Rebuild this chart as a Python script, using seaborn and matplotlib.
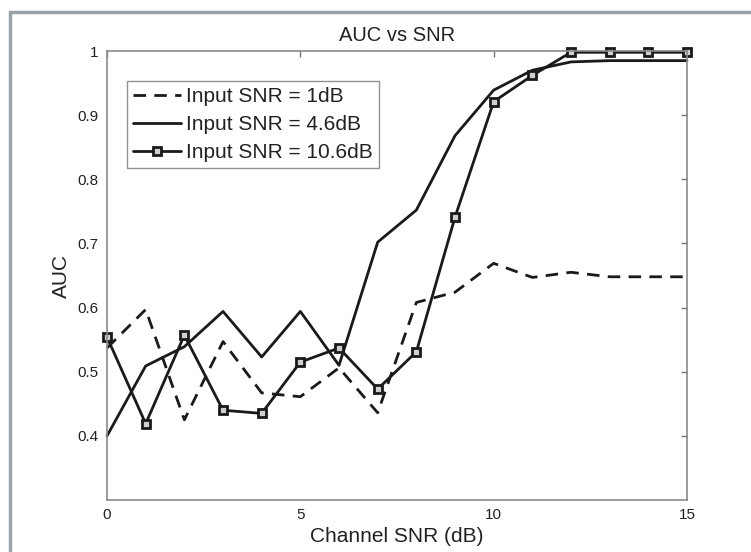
import numpy as np
import pandas as pd
import matplotlib
matplotlib.use("Agg")
import matplotlib.pyplot as plt
from matplotlib.lines import Line2D
import seaborn as sns

sns.set_style("white")
plt.rcParams['font.family'] = ['Liberation Sans', 'DejaVu Sans']

channel_snr = list(range(16))
auc_1db = [0.537, 0.597, 0.425, 0.547, 0.467, 0.461, 0.506, 0.436,
           0.608, 0.624, 0.669, 0.647, 0.655, 0.648, 0.648, 0.648]
auc_4_6db = [0.400, 0.509, 0.539, 0.594, 0.523, 0.594, 0.510, 0.702,
             0.752, 0.868, 0.939, 0.970, 0.983, 0.985, 0.985, 0.985]
auc_10_6db = [0.554, 0.419, 0.557, 0.440, 0.435, 0.515, 0.537, 0.473,
              0.531, 0.741, 0.921, 0.962, 0.998, 0.998, 0.998, 0.998]
labels = ["Input SNR = 1dB", "Input SNR = 4.6dB", "Input SNR = 10.6dB"]

fig = plt.figure(figsize=(7.51, 5.52), dpi=100)
ax = fig.add_axes([0.1425, 0.0942, 0.7723, 0.8134])

lw = 2.0
sns.lineplot(x=channel_snr, y=auc_1db, ax=ax, color="#1a1a1a", lw=lw,
             label=labels[0])
ax.lines[-1].set_dashes([4.5, 3])
sns.lineplot(x=channel_snr, y=auc_4_6db, ax=ax, color="#1a1a1a", lw=lw,
             label=labels[1])
sns.lineplot(x=channel_snr, y=auc_10_6db, ax=ax, color="#1a1a1a", lw=lw,
             marker="s", markersize=5.5, markerfacecolor="#d0d0d0",
             markeredgecolor="#1a1a1a", markeredgewidth=2.0, label=labels[2])
for ln in ax.lines:
    ln.set_clip_on(False)

ax.set_xlim(0, 15)
ax.set_ylim(0.3, 1.0)
ax.set_xticks([0, 5, 10, 15])
ax.set_yticks([0.4, 0.5, 0.6, 0.7, 0.8, 0.9, 1.0])
ax.set_yticklabels(["0.4", "0.5", "0.6", "0.7", "0.8", "0.9", "1"])
ax.tick_params(direction="in", length=4, width=1, color="#777777",
               labelsize=11, labelcolor="#222222", top=True, right=True,
               pad=6)
for s in ax.spines.values():
    s.set_color("#8a8a8a")
    s.set_linewidth(1.2)

ax.set_title("AUC vs SNR", fontsize=14.5, color="#222222", pad=7)
ax.set_xlabel("Channel SNR (dB)", fontsize=15, color="#222222", labelpad=3)
ax.set_ylabel("AUC", fontsize=15, color="#222222", labelpad=5)

leg = ax.legend(loc="upper left", bbox_to_anchor=(0.034, 0.933),
                fontsize=15, handlelength=2.3, handletextpad=0.25,
                borderpad=0.3, labelspacing=0.42, frameon=True,
                fancybox=False, borderaxespad=0)
leg.get_frame().set_edgecolor("#777777")
leg.get_frame().set_linewidth(1.0)
for t in leg.get_texts():
    t.set_color("#222222")

# outer frame of the figure
frame_col = "#9aa3a8"
fig.add_artist(Line2D([10 / 751, 1.0], [1 - 12 / 552, 1 - 12 / 552],
                      transform=fig.transFigure, color=frame_col, lw=2.5))
fig.add_artist(Line2D([10 / 751, 10 / 751], [0.0, 1 - 12 / 552],
                      transform=fig.transFigure, color=frame_col, lw=2.5))

fig.savefig("out.png", dpi=100)
